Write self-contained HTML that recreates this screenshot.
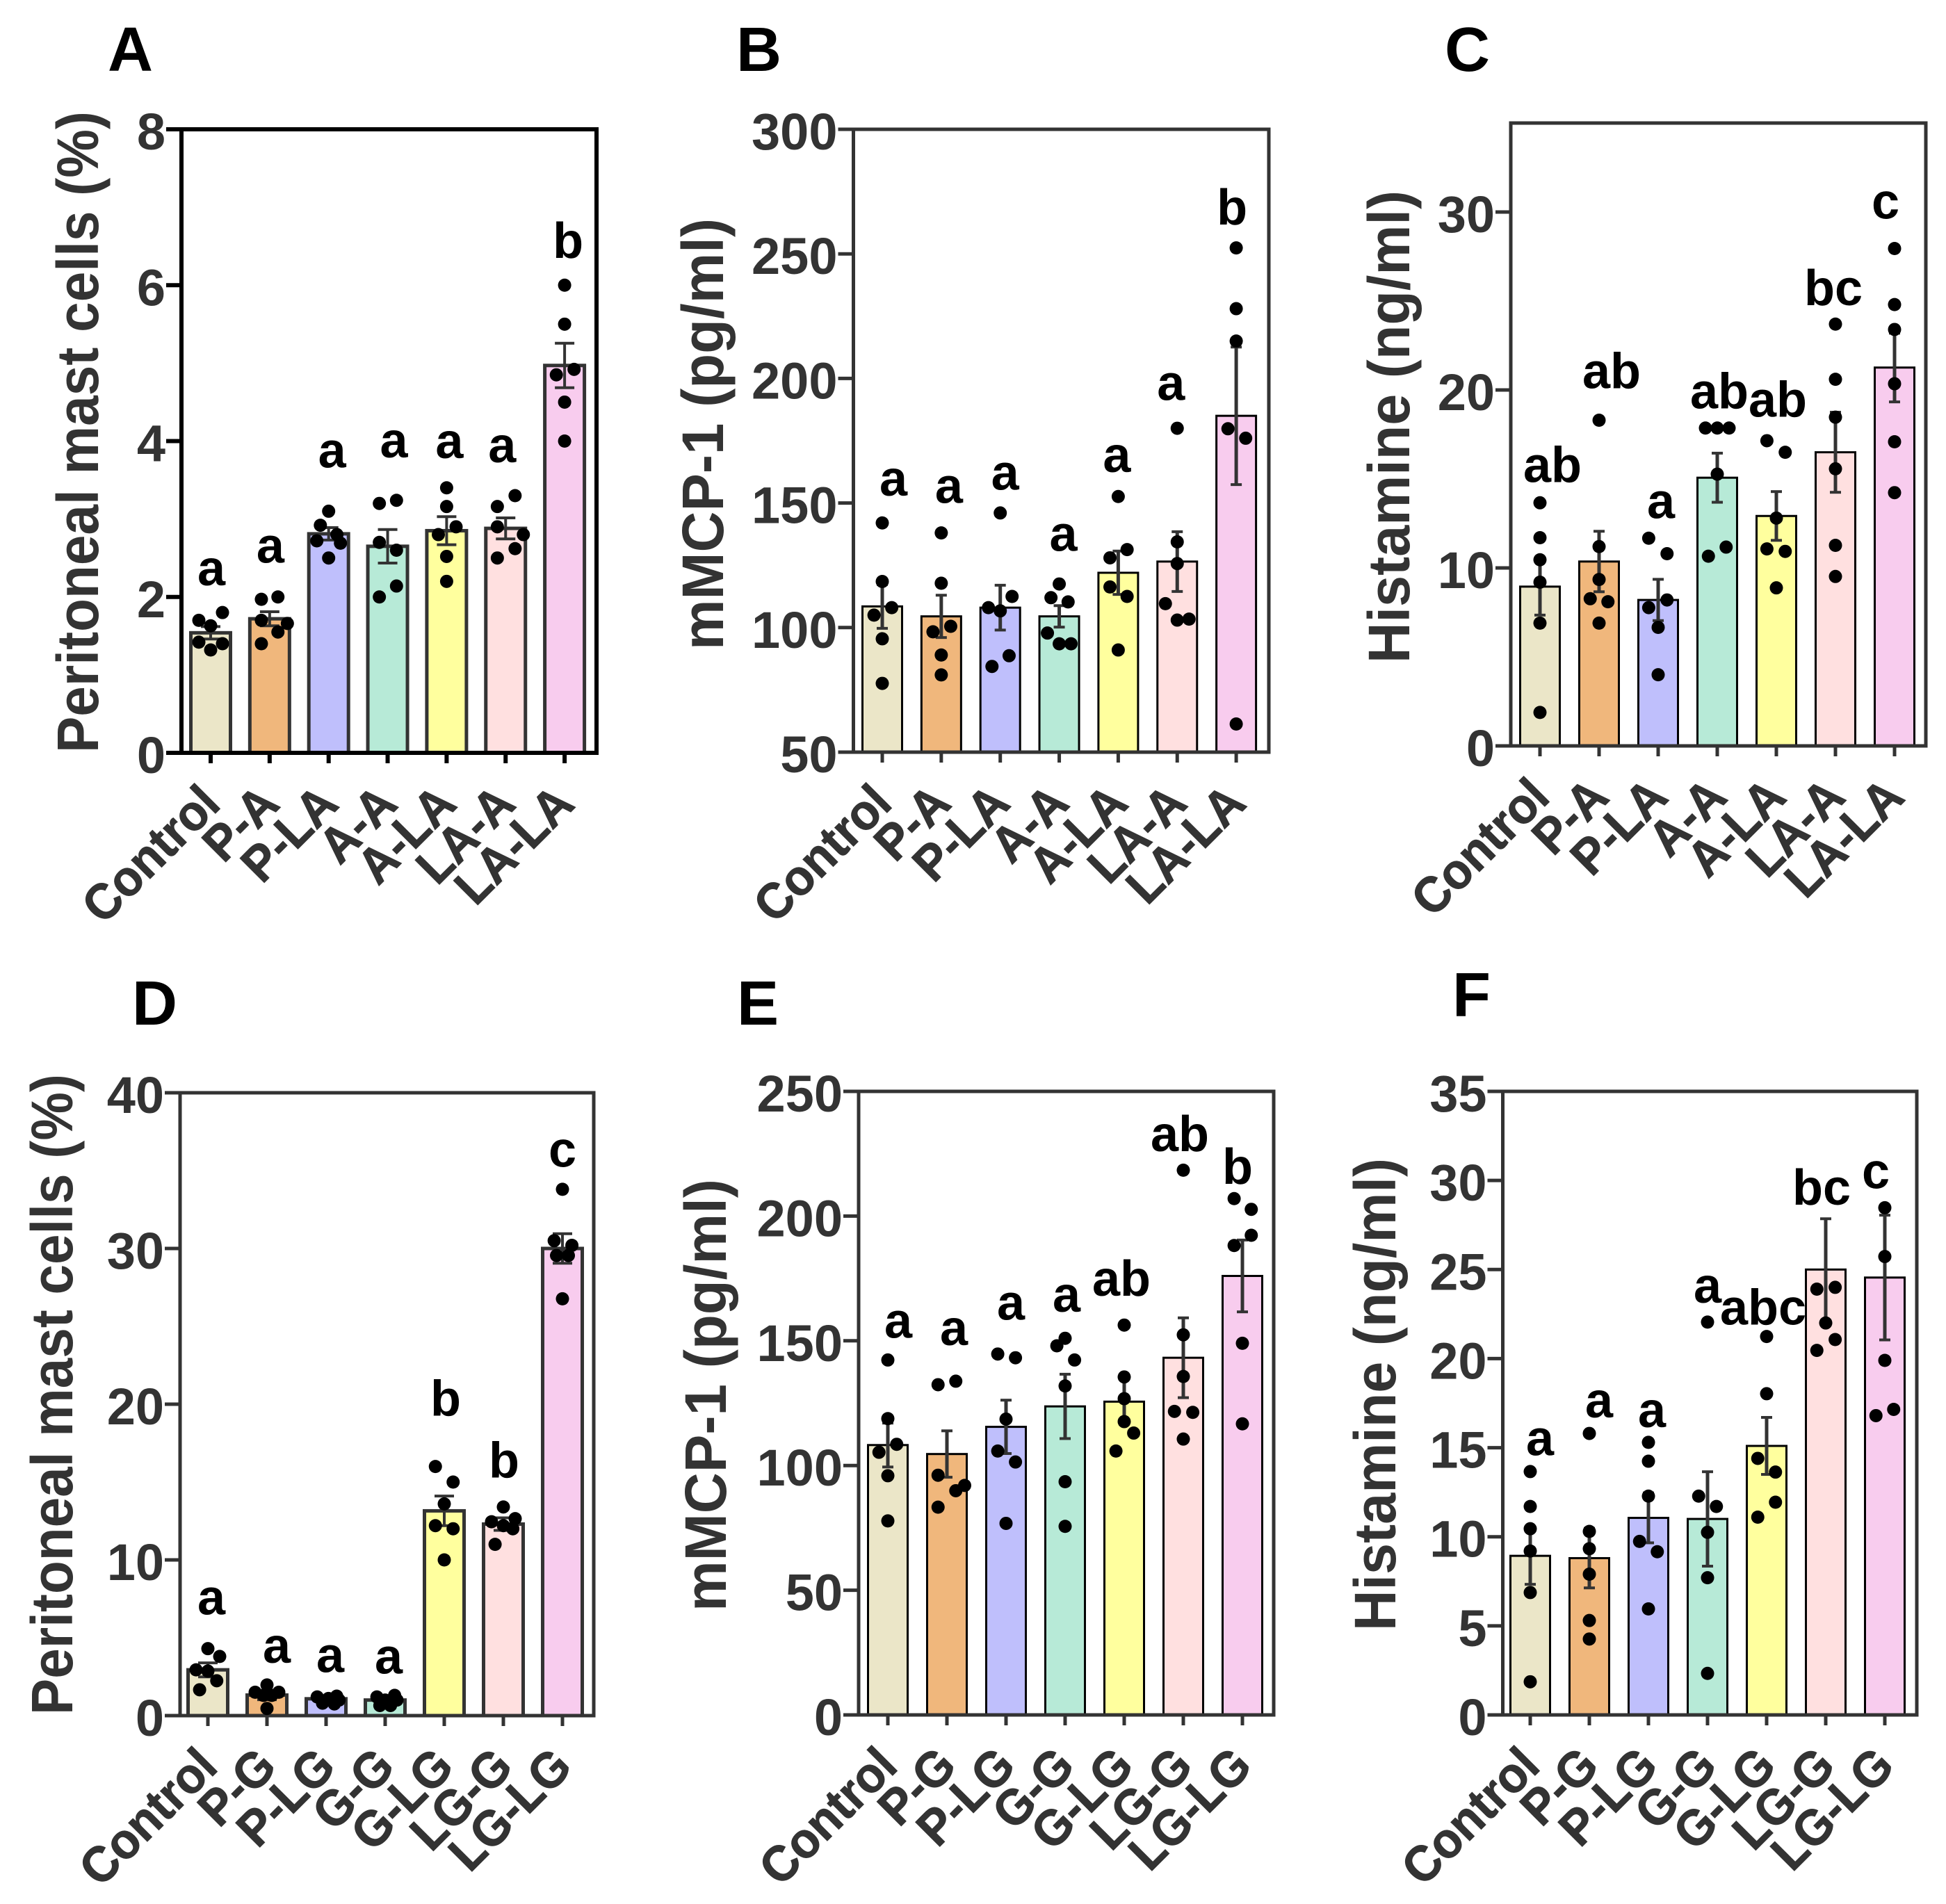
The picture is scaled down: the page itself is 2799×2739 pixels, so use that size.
<!DOCTYPE html>
<html lang="en">
<head>
<meta charset="utf-8">
<title>Mast cell, mMCP-1 and histamine bar charts</title>
<style>
html,body{margin:0;padding:0;background:#fff;}
svg{display:block;}
text{font-family:"Liberation Sans",sans-serif;font-weight:bold;}
</style>
</head>
<body>
<svg id="figure" xmlns="http://www.w3.org/2000/svg" width="2799" height="2739" viewBox="0 0 2799 2739"></svg>
<script>
const categoriesTop = ['Control','P-A','P-LA','A-A','A-LA','LA-A','LA-LA'];
const categoriesBottom = ['Control','P-G','P-LG','G-G','G-LG','LG-G','LG-LG'];

const panelATicks = [0,2,4,6,8];
const panelAMeans = [1.54,1.72,2.81,2.65,2.85,2.88,4.97];
const panelAErrors = [0.08,0.09,0.08,0.215,0.18,0.135,0.285];
const panelADots = [[1.8,1.7,1.63,1.42,1.4,1.32],[2.0,1.97,1.7,1.66,1.55,1.4],[3.1,2.92,2.8,2.72,2.69,2.5],[3.24,3.2,2.7,2.6,2.14,2.0],[3.4,3.16,2.9,2.8,2.52,2.2],[3.3,3.16,2.9,2.8,2.62,2.5],[6.0,5.5,4.92,4.85,4.5,4.0]];
const panelASwarm = [[1,-1,0,-1,1,0],[0.7,-0.7,-0.7,1.5,0.7,-0.7],[0,-0.7,0.7,-1,1,0],[0.75,-0.7,-0.7,0.75,0.75,-0.7],[0,0,0.8,-0.7,0,0],[0.8,-0.7,-0.7,1.5,0.8,-0.7],[0,0,0.8,-0.7,0,0]];
const panelALetters = ['a','a','a','a','a','a','b'];
const panelALetterLevels = [2.15,2.44,3.66,3.79,3.78,3.73,6.35];

const panelBTicks = [50,100,150,200,250,300];
const panelBMeans = [108.5,104.5,108,104.5,122,126.5,185];
const panelBErrors = [8.8,8.5,9,4.3,8.7,12,27.6];
const panelBDots = [[142,118.5,108,105,95.5,77.6],[138,117.8,100.5,98.3,89,81],[146,112.5,108,106.7,88.7,84.4],[117.5,112,110.3,97.8,93.5,93.5],[152.6,131.3,128,116.3,112.5,91],[180,134.4,125.7,109.6,103,103.4],[252.4,228,215,179.8,176,61.3]];
const panelBSwarm = [[0,0,0.8,-0.7,0,0],[0,0,0.8,-0.7,0,0],[0,1,-1,0,0.75,-0.7],[0,-0.7,0.75,-1,0,1],[0,0.75,-0.7,-0.7,0.75,0],[0,0,0,-1,0,1],[0,0,0,-0.7,0.8,0]];
const panelBLetters = ['a','a','a','a','a','a','b'];
const panelBLetterLevels = [152.9,150,155.3,130.8,162.5,191.3,261.8];

const panelCTicks = [0,10,20,30];
const panelCMeans = [8.95,10.36,8.2,15.07,12.92,16.5,21.26];
const panelCErrors = [1.6,1.7,1.16,1.38,1.37,2.25,1.93];
const panelCDots = [[13.66,11.7,10.46,9.2,6.9,1.88],[18.3,11.2,9.35,8.27,8.1,6.9],[11.67,10.8,8.2,7.77,6.66,4.0],[17.86,17.86,17.86,15.27,11.17,10.66],[17.15,16.5,12.8,11.07,10.93,8.88],[23.7,20.6,18.47,15.57,11.27,9.52],[27.95,24.8,23.4,20.35,17.09,14.23]];
const panelCSwarm = [[0,0,0,0,0,0],[0,0,0,-0.75,0.75,0],[-0.8,0.75,0.75,-0.8,0,0],[-1,0,1,0,0.75,-0.75],[-0.8,0.75,0,-0.8,0.75,0],[0,0,0,0,0,0],[0,0,0,0,0,0]];
const panelCLetters = ['ab','ab','a','ab','ab','bc','c'];
const panelCLetterLevels = [14.83,20.1,12.8,18.97,18.5,24.76,29.63];

const panelDTicks = [0,10,20,30,40];
const panelDMeans = [2.94,1.32,1.08,1.0,13.15,12.3,30.0];
const panelDErrors = [0.45,0.3,0.15,0.15,0.95,0.4,0.95];
const panelDDots = [[4.3,3.8,2.94,2.86,2.24,1.66],[1.97,1.5,1.5,1.3,1.3,0.46],[1.25,1.2,1.1,1.0,0.8,0.75],[1.3,1.2,1.0,1.0,0.65,0.65],[16,15,13.6,12.2,12,10],[13.4,12.65,12.45,12.2,12,11],[33.8,30.5,30.2,29.55,29.55,26.77]];
const panelDSwarm = [[0,1,-1,0,0.75,-0.7],[0,-1,1,-0.3,0.4,0],[0.9,-0.75,0.2,1.1,-0.3,0.7],[0.8,-0.7,0,1,-0.45,0.45],[-0.75,0.75,0,-0.75,0.75,0],[0,1,-1,0,0.8,-0.7],[0,-0.7,0.8,-0.5,0.5,0]];
const panelDLetters = ['a','a','a','a','b','b','c'];
const panelDLetterLevels = [6.5,3.4,2.79,2.7,19.26,15.3,35.24];

const panelETicks = [0,50,100,150,200,250];
const panelEMeans = [108.2,104.6,115.5,123.7,125.6,143.2,176];
const panelEErrors = [8.8,9.3,10.7,12.9,9,16,14.4];
const panelEDots = [[142.3,118.8,108.5,105.3,95.9,77.8],[133.8,132.4,96.1,92,89.9,83.3],[144.7,143.2,118.6,105.8,101.4,76.8],[151,148,142.3,131.9,93.5,75.6],[156.3,135.5,126.8,117.6,113,105.8],[218.4,152.4,135.7,121.7,121.3,110.6],[207,202.7,192.3,188.2,149,116.7]];
const panelESwarm = [[0,0,0.75,-0.75,0,0],[0.75,-0.75,-0.75,1.5,0.75,-0.75],[-0.7,0.8,0,-0.7,0.8,0],[0,-0.7,0.8,0,0,0],[0,0,0,0,0.8,-0.7],[0,0,0,-0.75,0.8,0],[-0.7,0.75,0.75,-0.7,0,0]];
const panelELetters = ['a','a','a','a','ab','ab','b'];
const panelELetterLevels = [151.2,148.3,158.5,161.6,168.1,226,213];

const panelFTicks = [0,5,10,15,20,25,30,35];
const panelFMeans = [8.93,8.8,11.06,11,15.1,25,24.55];
const panelFErrors = [1.6,1.67,1.4,2.65,1.6,2.85,3.5];
const panelFDots = [[13.66,11.7,10.45,9.2,6.87,1.86],[15.8,10.3,9.33,7.9,5.3,4.26],[15.3,14.24,12.28,9.74,9.16,5.95],[22.05,12.28,11.7,10.25,7.7,2.33],[21.24,18.03,14.4,13.63,11.94,11.1],[24,23.9,22,21.07,20.46],[28.47,25.73,19.9,17.15,16.8]];
const panelFSwarm = [[0,0,0,0,0,0],[0,0,0,0,0,0],[0,0,0,-0.75,0.75,0],[0,-0.75,0.75,0,0,0],[0,0,-0.75,0.75,0.75,-0.75],[0.8,-0.75,0,0.8,-0.75],[0,0,0,0.75,-0.75]];
const panelFLetters = ['a','a','a','a','abc','bc','c'];
const panelFLetterLevels = [14.58,16.7,16.16,23.13,21.9,28.64,29.56];

const barFills = ['#EBE6C8','#F0B77C','#BFBFFC','#B7EAD7','#FFFF9E','#FFE0E0','#F8CCEE'];

const svg = document.getElementById('figure');
const NS = 'http://www.w3.org/2000/svg';

function add(parent, tag, geometry) {
  const node = document.createElementNS(NS, tag);
  for (const key in geometry) node.setAttribute(key, geometry[key]);
  parent.appendChild(node);
  return node;
}

function drawPanel(p) {
  const width = p.right - p.left;
  const xScale = i => p.first + i * p.step;
  const yMin = p.ticks[0];
  const yScale = v => p.bottom - (v - yMin) / (p.yMax - yMin) * (p.bottom - p.top);

  const g = add(svg, 'g', {});
  
  

  const panelLabel = add(g, 'text', {x: p.labelX - 5, y: p.labelY, 'font-size': 90, fill: '#000'});
  
  
  panelLabel.textContent = p.label;

  const title = add(g, 'text', {transform: 'translate(' + p.titleX + ',' + p.titleBottom + ') rotate(-90)', x: 0, y: 0, 'font-size': 84, fill: '#333', textLength: p.titleLength, lengthAdjust: 'spacingAndGlyphs'});
  
  
  title.textContent = p.title;

  p.means.forEach((mean, i) => {
    const cx = xScale(i);
    const bar = add(g, 'rect', {x: cx - 28.5, y: yScale(mean), width: 57, height: p.bottom - yScale(mean), fill: barFills[i], stroke: p.barStroke, 'stroke-width': p.barStrokeWidth});
    
    
  });

  const frame = add(g, 'rect', {x: p.left, y: p.top, width: width, height: p.bottom - p.top, fill: 'none', stroke: p.axisColor, 'stroke-width': p.axisWidth});
  
  

  p.ticks.forEach(t => {
    const y = yScale(t);
    const tick = add(g, 'line', {x1: p.left - 22, x2: p.left, y1: y, y2: y, stroke: p.axisColor, 'stroke-width': p.axisWidth});
    
    
    const label = add(g, 'text', {x: p.left - 23, y: y + 29, 'font-size': 74, fill: '#333', 'text-anchor': 'end'});
    
    
    label.textContent = t;
  });

  p.categories.forEach((name, i) => {
    const cx = xScale(i);
    const tick = add(g, 'line', {x1: cx, x2: cx, y1: p.bottom, y2: p.bottom + 15, stroke: p.axisColor, 'stroke-width': p.axisWidth});
    
    
    const label = add(g, 'text', {transform: 'translate(' + (cx + 17) + ',' + (p.bottom + 77) + ') rotate(-45) scale(0.95,1)', x: 0, y: 0, 'font-size': 72, fill: '#333', stroke: '#333', 'stroke-width': 1, 'text-anchor': 'end'});
    
    
    label.textContent = name;
  });

  p.means.forEach((mean, i) => {
    const cx = xScale(i);
    const hi = yScale(mean + p.errors[i]);
    const lo = yScale(mean - p.errors[i]);
    const stem = add(g, 'line', {x1: cx, x2: cx, y1: hi, y2: lo, stroke: '#333', 'stroke-width': p.errWidth});
    
    
    const capTop = add(g, 'line', {x1: cx - p.capHalf, x2: cx + p.capHalf, y1: hi, y2: hi, stroke: '#333', 'stroke-width': p.capWidth});
    
    
    const capLow = add(g, 'line', {x1: cx - p.capHalf, x2: cx + p.capHalf, y1: lo, y2: lo, stroke: '#333', 'stroke-width': p.capWidth});
    
    
  });

  p.dots.forEach((values, i) => {
    values.forEach((v, j) => {
      const dot = add(g, 'circle', {cx: xScale(i) + p.swarm[i][j] * 17, cy: yScale(v), r: 9.5, fill: '#000'});
      
      
    });
  });

  p.letters.forEach((letter, i) => {
    const sig = add(g, 'text', {x: xScale(i) + p.letterNudge[i], y: yScale(p.letterLevels[i]), 'font-size': 72, fill: '#000', 'text-anchor': 'middle'});
    
    
    sig.textContent = letter;
  });
}

drawPanel({label:'A',labelX:160,labelY:102,title:'Peritoneal mast cells (%)',titleX:141,titleBottom:1083,titleLength:923,
  left:261,right:858,top:186,bottom:1083,first:303,step:84.85,yMax:8,ticks:panelATicks,categories:categoriesTop,
  means:panelAMeans,errors:panelAErrors,dots:panelADots,swarm:panelASwarm,letters:panelALetters,letterLevels:panelALetterLevels,
  letterNudge:[1,1,5,9,4,-5,5],axisColor:'#000',axisWidth:6,barStroke:'#333',barStrokeWidth:5,errWidth:4,capWidth:4,capHalf:14});
drawPanel({label:'B',labelX:1064,labelY:102,title:'mMCP-1 (pg/ml)',titleX:1040,titleBottom:935,titleLength:621,
  left:1227.5,right:1825,top:186,bottom:1082,first:1269,step:84.85,yMax:300,ticks:panelBTicks,categories:categoriesTop,
  means:panelBMeans,errors:panelBErrors,dots:panelBDots,swarm:panelBSwarm,letters:panelBLetters,letterLevels:panelBLetterLevels,
  letterNudge:[16,11,7,6,-2,-9,-6],axisColor:'#333',axisWidth:5,barStroke:'#000',barStrokeWidth:3,errWidth:5,capWidth:4,capHalf:8});
drawPanel({label:'C',labelX:2083,labelY:102,title:'Histamine (ng/ml)',titleX:2027,titleBottom:954,titleLength:680,
  left:2173,right:2770,top:177,bottom:1073,first:2215,step:85,yMax:35,ticks:panelCTicks,categories:categoriesTop,
  means:panelCMeans,errors:panelCErrors,dots:panelCDots,swarm:panelCSwarm,letters:panelCLetters,letterLevels:panelCLetterLevels,
  letterNudge:[18,18,4,3,2,-3,-13],axisColor:'#333',axisWidth:5,barStroke:'#000',barStrokeWidth:3,errWidth:5,capWidth:4,capHalf:8});
drawPanel({label:'D',labelX:195,labelY:1474,title:'Peritoneal mast cells (%)',titleX:104,titleBottom:2467,titleLength:922,
  left:259,right:854,top:1572,bottom:2468,first:299,step:85,yMax:40,ticks:panelDTicks,categories:categoriesBottom,
  means:panelDMeans,errors:panelDErrors,dots:panelDDots,swarm:panelDSwarm,letters:panelDLetters,letterLevels:panelDLetterLevels,
  letterNudge:[5,14,6,5,2,1,0],axisColor:'#333',axisWidth:5,barStroke:'#333',barStrokeWidth:5,errWidth:4,capWidth:4,capHalf:14});
drawPanel({label:'E',labelX:1065,labelY:1474,title:'mMCP-1 (pg/ml)',titleX:1044,titleBottom:2318,titleLength:622,
  left:1235,right:1832,top:1570,bottom:2467,first:1277,step:85,yMax:250,ticks:panelETicks,categories:categoriesBottom,
  means:panelEMeans,errors:panelEErrors,dots:panelEDots,swarm:panelESwarm,letters:panelELetters,letterLevels:panelELetterLevels,
  letterNudge:[15,10,7,2,-4,-5,-7],axisColor:'#333',axisWidth:5,barStroke:'#000',barStrokeWidth:3,errWidth:5,capWidth:4,capHalf:8});
drawPanel({label:'F',labelX:2094,labelY:1462,title:'Histamine (ng/ml)',titleX:2007,titleBottom:2346,titleLength:680,
  left:2161.5,right:2757,top:1570,bottom:2467,first:2201,step:85,yMax:35,ticks:panelFTicks,categories:categoriesBottom,
  means:panelFMeans,errors:panelFErrors,dots:panelFDots,swarm:panelFSwarm,letters:panelFLetters,letterLevels:panelFLetterLevels,
  letterNudge:[14,14,5,0,-5,-6,-13],axisColor:'#333',axisWidth:5,barStroke:'#000',barStrokeWidth:3,errWidth:5,capWidth:4,capHalf:8});
</script>
</body>
</html>
